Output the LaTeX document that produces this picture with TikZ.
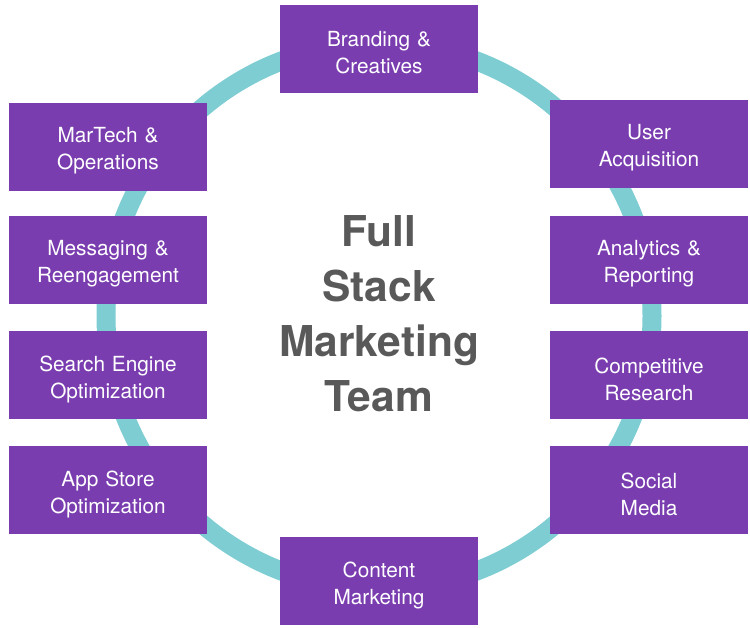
\documentclass[tikz,border=0pt]{standalone}
\usepackage{fontspec}
\setmainfont{TeX Gyre Heros}
\definecolor{boxpurple}{HTML}{7A3DAF}
\definecolor{ringteal}{HTML}{7ECDD3}
\definecolor{titlegray}{HTML}{595959}
\begin{document}
\begin{tikzpicture}[x=1pt,y=-1pt,
  box/.style={fill=boxpurple, minimum width=198pt, minimum height=88pt, inner sep=0pt},
  boxtext/.style={text=white, font=\fontsize{20.8}{27}\selectfont, align=center, text width=196pt, inner sep=0pt},
  title/.style={text=titlegray, font=\bfseries\fontsize{42.5}{55}\selectfont, align=center}]
\useasboundingbox (0,0) rectangle (750,627);
\draw[ringteal, line width=19pt] (379,316) circle (273pt);
\foreach \nm/\x/\y/\txt in {
  brand/379/48.5/{Branding \&\\Creatives},
  martech/108/146.5/{MarTech \&\\Operations},
  msg/108/260/{Messaging \&\\Reengagement},
  seo/108/375/{Search Engine\\Optimization},
  aso/108/490/{App Store\\Optimization},
  ua/649/144/{User\\Acquisition},
  analytics/649/260/{Analytics \&\\Reporting},
  comp/649/375/{Competitive\\Research},
  social/649/490/{Social\\Media},
  content/379/581/{Content\\Marketing}} {
  \node[box] (\nm) at (\x,\y) {};
  \node[boxtext, yshift=-4pt] (\nm-text) at (\nm.center) {\txt};
}
\node[title] (center) at (379,314) {Full\\Stack\\Marketing\\Team};
\end{tikzpicture}
\end{document}
